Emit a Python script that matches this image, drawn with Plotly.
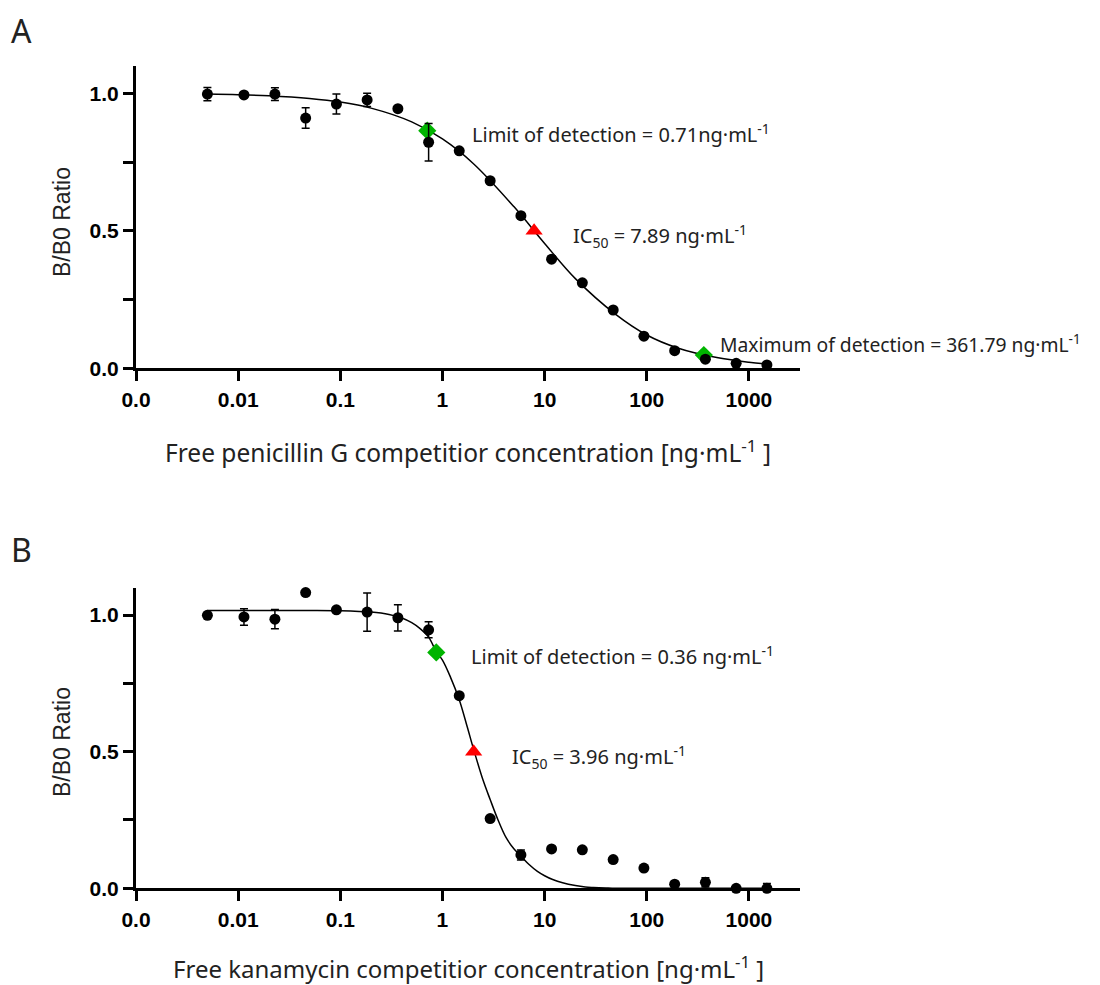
import plotly.graph_objects as go

# ---------------- data ----------------
conc = [0.005, 0.0114, 0.0229, 0.0458, 0.0916, 0.183, 0.366, 0.732, 1.46, 2.93,
        5.86, 11.7, 23.4, 46.9, 93.75, 187.5, 375, 750, 1500]

pen_ratio = [0.997, 0.994, 0.997, 0.910, 0.961, 0.976, 0.944, 0.822, 0.791, 0.682,
             0.555, 0.397, 0.311, 0.212, 0.117, 0.064, 0.033, 0.018, 0.012]
pen_err = [0.024, 0, 0.023, 0.037, 0.036, 0.024, 0, 0.068, 0, 0,
           0, 0, 0, 0, 0, 0, 0, 0, 0]

kan_ratio = [0.999, 0.993, 0.985, 1.082, 1.019, 1.011, 0.990, 0.946, 0.705, 0.255,
             0.122, 0.144, 0.141, 0.105, 0.074, 0.015, 0.022, 0.0, 0.0]
kan_err = [0, 0.030, 0.035, 0, 0, 0.070, 0.048, 0.029, 0, 0,
           0.018, 0, 0, 0, 0, 0, 0.017, 0, 0.018]

# fitted curves
pen_fit_x = [0.005, 0.01, 0.02, 0.05, 0.1, 0.2, 0.5, 1, 2, 5, 10, 20, 50, 100,
             200, 500, 1000, 1500]
pen_fit_y = [0.997, 0.995, 0.991, 0.981, 0.968, 0.946, 0.896, 0.834, 0.745, 0.588,
             0.454, 0.326, 0.195, 0.121, 0.074, 0.038, 0.022, 0.016]

kan_fit_x = [0.005, 0.02, 0.05, 0.1, 0.2, 0.3, 0.4, 0.5, 0.6, 0.732, 0.87, 1.0,
             1.2, 1.46, 1.75, 2.02, 2.5, 2.93, 3.5, 4.2, 5.0, 5.86, 7.0, 8.5, 10,
             12, 15, 20, 25, 30, 40, 50, 200, 1500]
kan_fit_y = [1.017, 1.017, 1.017, 1.016, 1.011, 1.002, 0.989, 0.972, 0.951, 0.919,
             0.866, 0.835, 0.772, 0.690, 0.590, 0.508, 0.395, 0.325, 0.250, 0.185,
             0.145, 0.118, 0.088, 0.062, 0.046, 0.032, 0.020, 0.010, 0.005, 0.003,
             0.001, 0.0, 0.0, 0.0]

pen_lod = (0.71, 0.864)
pen_ic50 = (7.89, 0.5)
pen_max = (361.79, 0.048)
kan_lod = (0.87, 0.863)
kan_ic50 = (2.02, 0.5)

x_tickvals = [0.001, 0.01, 0.1, 1, 10, 100, 1000]
x_ticktext = ["0.0", "0.01", "0.1", "1", "10", "100", "1000"]
y_tickvals = [0, 0.25, 0.5, 0.75, 1.0]
y_ticktext = ["0.0", "", "0.5", "", "1.0"]

# page body adds an 8px margin; build the figure in screen coordinates minus it
OFF = 8
W, H = 1100 - OFF, 985 - OFF
GREEN = "#00b400"
RED = "#ff0000"
TXT = "#222222"
TXTFONT = "Noto Sans, Open Sans, sans-serif"
TICKFONT = "Liberation Sans, Arial, sans-serif"


def fx(px):
    return (px - OFF) / W


def fy(py):
    return 1 - (py - OFF) / H


fig = go.Figure()


def add_panel(xa, ya, fit_x, fit_y, ratio, err, specials):
    fig.add_trace(go.Scatter(x=fit_x, y=fit_y, mode="lines",
                             line=dict(color="black", width=1.5, shape="spline", smoothing=1),
                             xaxis=xa, yaxis=ya, hoverinfo="skip", cliponaxis=False))
    for (px, py), sym, col, size in specials:
        fig.add_trace(go.Scatter(x=[px], y=[py], mode="markers",
                                 marker=dict(symbol=sym, color=col, size=size, line=dict(width=0)),
                                 xaxis=xa, yaxis=ya, cliponaxis=False))
    fig.add_trace(go.Scatter(x=conc, y=ratio, mode="markers",
                             marker=dict(color="black", size=11, line=dict(width=0)),
                             error_y=dict(type="data", array=err, visible=True,
                                          color="black", thickness=1.5, width=4),
                             xaxis=xa, yaxis=ya, cliponaxis=False))


add_panel("x", "y", pen_fit_x, pen_fit_y, pen_ratio, pen_err,
          [(pen_lod, "diamond", GREEN, 14), (pen_max, "diamond", GREEN, 14),
           (pen_ic50, "triangle-up", RED, 15)])
add_panel("x2", "y2", kan_fit_x, kan_fit_y, kan_ratio, kan_err,
          [(kan_lod, "diamond", GREEN, 14), (kan_ic50, "triangle-up", RED, 15)])

x_dom = [fx(136), fx(800)]
yA_dom = [fy(368.3), fy(65.8)]
yB_dom = [fy(888.3), fy(587.7)]

axis_common = dict(showline=True, linecolor="black", linewidth=3, ticks="outside",
                   ticklen=10, tickwidth=3, tickcolor="black", showgrid=False,
                   zeroline=False, automargin=False,
                   tickfont=dict(family=TICKFONT, size=21, color="black", weight="bold"))

xaxis_kw = dict(type="log", range=[-3, 3.5], domain=x_dom, tickvals=x_tickvals,
                ticktext=x_ticktext, **axis_common)
yaxis_kw = dict(range=[0, 1.1], tickvals=y_tickvals, ticktext=y_ticktext, **axis_common)

fig.update_layout(
    template="none",
    width=W, height=H, margin=dict(l=0, r=0, t=0, b=0, pad=0, autoexpand=False),
    paper_bgcolor="white", plot_bgcolor="white", showlegend=False,
    xaxis=dict(anchor="y", **xaxis_kw),
    yaxis=dict(anchor="x", domain=yA_dom, **yaxis_kw),
    xaxis2=dict(anchor="y2", **xaxis_kw),
    yaxis2=dict(anchor="x2", domain=yB_dom, **yaxis_kw),
)


def ann(text, px, py, size=20, xanchor="left", angle=0, family=TXTFONT):
    fig.add_annotation(text=text, x=fx(px), y=fy(py), xref="paper", yref="paper",
                       showarrow=False, xanchor=xanchor, yanchor="middle", textangle=angle,
                       font=dict(family=family, size=size, color=TXT))


# panel letters
ann("A", 9, 31, size=32)
ann("B", 9, 549, size=32)

# axis titles
ann("Free penicillin G competitior concentration [ng·mL<sup>-1</sup> ]", 468, 452,
    size=24.5, xanchor="center")
ann("Free kanamycin competitior concentration [ng·mL<sup>-1</sup> ]", 468, 967,
    size=24, xanchor="center")
ann("B/B0 Ratio", 62, 222, size=23, xanchor="center", angle=-90, family=TICKFONT)
ann("B/B0 Ratio", 62, 742, size=23, xanchor="center", angle=-90, family=TICKFONT)

# panel annotations
ann("Limit of detection = 0.71ng·mL<sup>-1</sup>", 470, 133)
ann("IC<sub>50</sub> = 7.89 ng·mL<sup>-1</sup>", 571, 236)
ann("Maximum of detection = 361.79 ng·mL<sup>-1</sup>", 718, 344, size=19.3)
ann("Limit of detection = 0.36 ng·mL<sup>-1</sup>", 469, 655)
ann("IC<sub>50</sub> = 3.96 ng·mL<sup>-1</sup>", 510, 757)

fig.write_html("out.html")
